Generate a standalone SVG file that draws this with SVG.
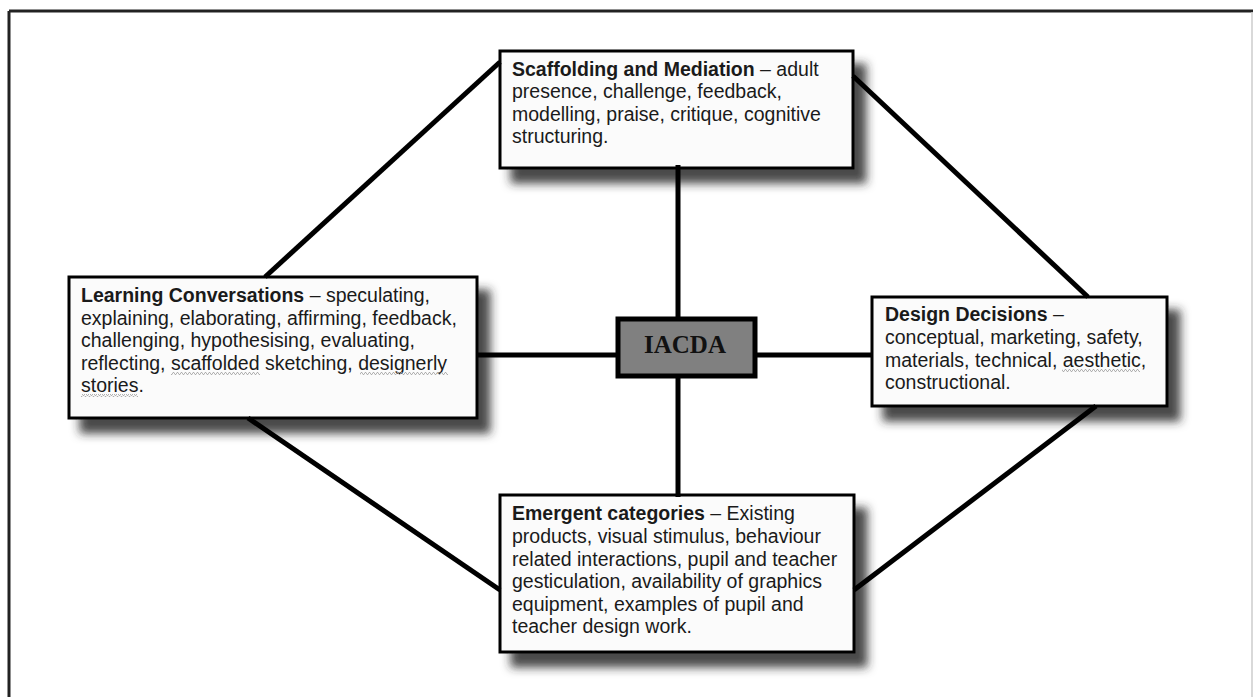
<svg xmlns="http://www.w3.org/2000/svg" width="1253" height="697" viewBox="0 0 1253 697">
  <style>
    .box { fill: #fbfbfb; stroke: #000; stroke-width: 3; }
    .t { font-family: "Liberation Sans", Arial, sans-serif; font-size: 19.5px; fill: #1a1a1a; }
    .b { font-weight: bold; }
    .conn { stroke: #000; stroke-width: 5; fill: none; }
    .wavy { fill: url(#wave); }
  </style>
  <defs>
    <filter id="shadow" x="-10%" y="-10%" width="130%" height="140%">
      <feDropShadow dx="12" dy="14" stdDeviation="5" flood-color="#2a2a2a" flood-opacity="0.85"/>
    </filter>
    <pattern id="wave" patternUnits="userSpaceOnUse" width="4" height="3">
      <path d="M0 2.5 L1 0.5 L2 0.5 L3 2.5 L4 2.5" stroke="#a0a0a0" stroke-width="0.8" fill="none"/>
    </pattern>
  </defs>
  <rect width="1253" height="697" fill="#fff"/>
  <g id="frame">
    <line x1="9" y1="11" x2="1253" y2="11" stroke="#222" stroke-width="3"/>
    <line x1="9" y1="11" x2="9" y2="697" stroke="#222" stroke-width="3"/>
    <line x1="1252" y1="12" x2="1252" y2="697" stroke="#ccc" stroke-width="1.5"/>
  </g>

  <g id="node-scaffolding">
    <rect class="box" x="500" y="51" width="353" height="117" filter="url(#shadow)"/>
    <text class="t" x="512" y="76"><tspan class="b">Scaffolding and Mediation</tspan> – adult</text>
    <text class="t" x="512" y="98">presence, challenge, feedback,</text>
    <text class="t" x="512" y="121">modelling, praise, critique, cognitive</text>
    <text class="t" x="512" y="143">structuring.</text>
  </g>

  <g id="node-learning">
    <rect class="box" x="69" y="277" width="408" height="141" filter="url(#shadow)"/>
    <text class="t" x="81" y="302"><tspan class="b">Learning Conversations</tspan> – speculating,</text>
    <text class="t" x="81" y="325">explaining, elaborating, affirming, feedback,</text>
    <text class="t" x="81" y="347">challenging, hypothesising, evaluating,</text>
    <text class="t" x="81" y="370">reflecting, scaffolded sketching, designerly</text>
    <text class="t" x="81" y="392">stories.</text>
    <rect class="wavy" x="171" y="372" width="89" height="3"/>
    <rect class="wavy" x="360" y="372" width="88" height="3"/>
    <rect class="wavy" x="81" y="394" width="57" height="3"/>
  </g>

  <g id="node-design">
    <rect class="box" x="872" y="297" width="295" height="109" filter="url(#shadow)"/>
    <text class="t" x="885" y="321"><tspan class="b">Design Decisions</tspan> –</text>
    <text class="t" x="885" y="344">conceptual, marketing, safety,</text>
    <text class="t" x="885" y="367">materials, technical, aesthetic,</text>
    <text class="t" x="885" y="389">constructional.</text>
    <rect class="wavy" x="1062" y="369" width="78" height="3"/>
  </g>

  <g id="node-emergent">
    <rect class="box" x="500" y="495" width="354" height="157" filter="url(#shadow)"/>
    <text class="t" x="512" y="520"><tspan class="b">Emergent categories</tspan> – Existing</text>
    <text class="t" x="512" y="543">products, visual stimulus, behaviour</text>
    <text class="t" x="512" y="566">related interactions, pupil and teacher</text>
    <text class="t" x="512" y="588">gesticulation, availability of graphics</text>
    <text class="t" x="512" y="611">equipment, examples of pupil and</text>
    <text class="t" x="512" y="633">teacher design work.</text>
  </g>

  <g id="node-iacda">
    <rect x="618" y="319" width="137" height="57" fill="#808080" stroke="#000" stroke-width="5"/>
    <text x="685" y="353" text-anchor="middle" font-family="Liberation Serif, 'Times New Roman', serif" font-weight="bold" font-size="25" fill="#111">IACDA</text>
  </g>

  <g id="connectors">
    <line class="conn" x1="678" y1="165" x2="678" y2="317"/>
    <line class="conn" x1="678" y1="378" x2="678" y2="497"/>
    <line class="conn" x1="477" y1="355" x2="616" y2="355"/>
    <line class="conn" x1="757" y1="355" x2="872" y2="355"/>
    <line class="conn" x1="265" y1="277" x2="500" y2="62"/>
    <line class="conn" x1="853" y1="76" x2="1088" y2="297"/>
    <line class="conn" x1="248" y1="418" x2="500" y2="590"/>
    <line class="conn" x1="1096" y1="406" x2="854" y2="590"/>
  </g>
</svg>
